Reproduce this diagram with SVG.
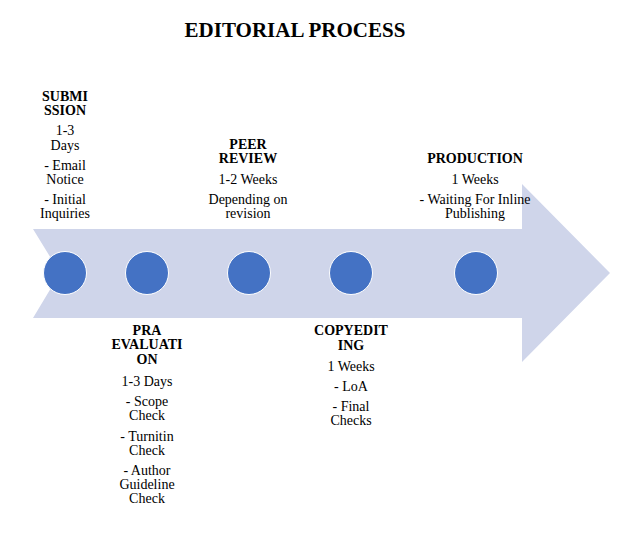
<svg xmlns="http://www.w3.org/2000/svg" width="627" height="553" viewBox="0 0 627 553">
<style>
text{font-family:"Liberation Serif","Times New Roman",serif;font-size:14px;fill:#000;text-anchor:middle}
.h{font-weight:bold}
.t{font-size:21px;font-weight:bold}
.dot{fill:#4472C4;stroke:#fff;stroke-width:1}
</style>
<rect width="627" height="553" fill="#fff"/>
<text class="t" x="295" y="37">EDITORIAL PROCESS</text>
<g id="connectors">
<polygon points="33,229 522,229 522,184 610,273 522,362 522,318 33,318 60,273" fill="#CFD5EA"/>
</g>
<g id="submission">
<circle class="dot" cx="65" cy="273" r="21.5"/>
<text class="h" x="65" y="101">SUBMI</text>
<text class="h" x="65" y="115">SSION</text>
<text x="65" y="135">1-3</text>
<text x="65" y="150">Days</text>
<text x="65" y="170">- Email</text>
<text x="65" y="184">Notice</text>
<text x="65" y="204">- Initial</text>
<text x="65" y="218">Inquiries</text>
</g>
<g id="pra-evaluation">
<circle class="dot" cx="147" cy="273" r="21.5"/>
<text class="h" x="147" y="335">PRA</text>
<text class="h" x="147" y="349">EVALUATI</text>
<text class="h" x="147" y="364">ON</text>
<text x="147" y="386">1-3 Days</text>
<text x="147" y="406">- Scope</text>
<text x="147" y="420">Check</text>
<text x="147" y="441">- Turnitin</text>
<text x="147" y="455">Check</text>
<text x="147" y="475">- Author</text>
<text x="147" y="489">Guideline</text>
<text x="147" y="503">Check</text>
</g>
<g id="peer-review">
<circle class="dot" cx="249" cy="273" r="21.5"/>
<text class="h" x="248" y="149">PEER</text>
<text class="h" x="248" y="163">REVIEW</text>
<text x="248" y="184">1-2 Weeks</text>
<text x="248" y="204">Depending on</text>
<text x="248" y="218">revision</text>
</g>
<g id="copyediting">
<circle class="dot" cx="351" cy="273" r="21.5"/>
<text class="h" x="351" y="335">COPYEDIT</text>
<text class="h" x="351" y="350">ING</text>
<text x="351" y="371">1 Weeks</text>
<text x="351" y="391">- LoA</text>
<text x="351" y="411">- Final</text>
<text x="351" y="425">Checks</text>
</g>
<g id="production">
<circle class="dot" cx="476" cy="273" r="21.5"/>
<text class="h" x="475" y="163">PRODUCTION</text>
<text x="475" y="184">1 Weeks</text>
<text x="475" y="204">- Waiting For Inline</text>
<text x="475" y="218">Publishing</text>
</g>
</svg>
